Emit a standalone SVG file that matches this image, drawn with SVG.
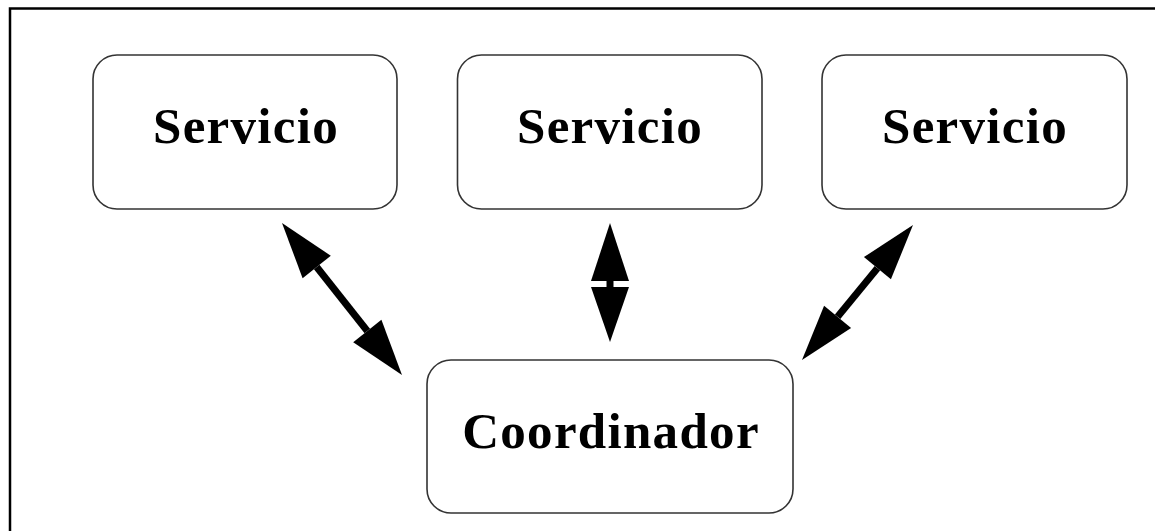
<svg xmlns="http://www.w3.org/2000/svg" width="1155" height="531" viewBox="0 0 1155 531">
<style>
.box{fill:#fff;stroke:#333;stroke-width:1.6}
.lbl{font-family:"Liberation Serif","Times New Roman",serif;font-weight:bold;font-size:51px;letter-spacing:1.3px;text-anchor:middle;fill:#000}
.shaft{stroke:#000;stroke-width:7;fill:none}
.head{fill:#000;stroke:none}
</style>
<rect width="1155" height="531" fill="#fff"/>
<path d="M10,531 V8.5 H1155" fill="none" stroke="#000" stroke-width="2.5"/>
<g id="servicio1"><rect class="box" x="93" y="55" width="304" height="154" rx="24"/><text class="lbl" x="246" y="143">Servicio</text></g>
<g id="servicio2"><rect class="box" x="457.5" y="55" width="304.5" height="154" rx="24"/><text class="lbl" x="610" y="143">Servicio</text></g>
<g id="servicio3"><rect class="box" x="822" y="55" width="305" height="154" rx="24"/><text class="lbl" x="975" y="143">Servicio</text></g>
<g id="coordinador"><rect class="box" x="427" y="360" width="366" height="153" rx="24"/><text class="lbl" x="611" y="448">Coordinador</text></g>
<g id="connectors">
<line class="shaft" x1="316.7" y1="267" x2="367.3" y2="331"/>
<polygon class="head" points="282,223 302.6,278.2 330.8,255.8"/>
<polygon class="head" points="402,375 353.2,342.2 381.4,319.8"/>
<line class="shaft" x1="610" y1="280" x2="610" y2="288"/>
<polygon class="head" points="610,223 591,281 629,281"/>
<polygon class="head" points="610,342 591,287 629,287"/>
<line class="shaft" x1="877.4" y1="268.2" x2="837.6" y2="316.8"/>
<polygon class="head" points="913,225 863.9,257.1 890.9,279.3"/>
<polygon class="head" points="802,360 824.1,305.7 851.1,327.9"/>
</g>
</svg>
